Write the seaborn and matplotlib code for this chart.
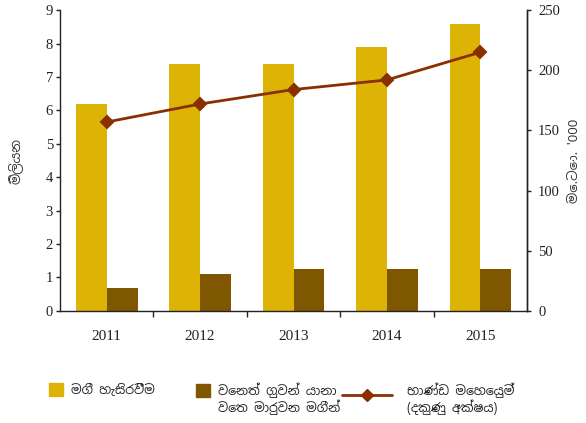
import matplotlib
matplotlib.use("Agg")
import matplotlib.pyplot as plt
import seaborn as sns
import pandas as pd
from matplotlib.patches import Patch
from matplotlib.lines import Line2D
from matplotlib.legend_handler import HandlerPatch, HandlerLine2D

# data
years = ["2011", "2012", "2013", "2014", "2015"]
passengers = [6.2, 7.4, 7.4, 7.9, 8.6]        # million (left axis)
transfer = [0.7, 1.1, 1.25, 1.25, 1.25]       # million (left axis)
cargo = [157, 172, 184, 192, 215]             # MT '000 (right axis)

lbl_pass = "මගී හැසිරවීම"
lbl_transfer = "වෙනත් ගුවන් යානා\nවෙත මාරුවන මගීන්"
lbl_cargo = "භාණ්ඩ මෙහෙයුම්\n(දකුණු අක්ෂය)"
ylabel_left = "මිලියන"
ylabel_right = "මෙ.ටො. '000"

gold = "#DDB306"
brown = "#7F5700"
red = "#8A3000"

sns.set_theme(style="white")
plt.rcParams["font.family"] = ["Liberation Serif", "Noto Sans Sinhala", "Abhaya Libre", "DejaVu Sans"]
sinhala = ["Noto Sans Sinhala", "Abhaya Libre", "DejaVu Sans"]


# legend handles sit next to the first line of a two-line label
class RaisedPatch(HandlerPatch):
    def __init__(self, shift=0.0, **kw):
        super().__init__(**kw)
        self.shift = shift

    def create_artists(self, legend, orig_handle, xdescent, ydescent, width,
                       height, fontsize, trans):
        return super().create_artists(legend, orig_handle, xdescent,
                                      ydescent - self.shift * fontsize,
                                      width, height, fontsize, trans)


class RaisedLine(HandlerLine2D):
    def __init__(self, shift=0.0, **kw):
        super().__init__(**kw)
        self.shift = shift

    def create_artists(self, legend, orig_handle, xdescent, ydescent, width,
                       height, fontsize, trans):
        return super().create_artists(legend, orig_handle, xdescent,
                                      ydescent - self.shift * fontsize,
                                      width, height, fontsize, trans)


df = pd.DataFrame({
    "year": years * 2,
    "value": passengers + transfer,
    "series": [lbl_pass] * 5 + [lbl_transfer] * 5,
})

fig = plt.figure(figsize=(5.86, 4.23), dpi=100)
ax = fig.add_axes([0.1024, 0.265, 0.797, 0.711])

sns.barplot(data=df, x="year", y="value", hue="series", palette=[gold, brown],
            width=0.66, saturation=1, linewidth=0, legend=False, ax=ax)
ax.set_xlim(-0.5, 4.5)
ax.set_ylim(0, 9)
ax.set_yticks(range(0, 10))
ax.set_xlabel("")
ax.set_ylabel(ylabel_left, fontsize=9.5, color="#333333", labelpad=16,
              family=sinhala)

# secondary axis: cargo line
ax2 = ax.twinx()
sns.pointplot(x=years, y=cargo, color=red, markers="D", errorbar=None,
              markersize=6, linewidth=2, ax=ax2)
ax2.set_xlim(-0.5, 4.5)
ax2.set_ylim(0, 250)
ax2.set_yticks(range(0, 251, 50))
ax2.set_ylabel(ylabel_right, fontsize=9.5, color="#333333", labelpad=6,
               family=sinhala)

for a in (ax, ax2):
    a.spines["top"].set_visible(False)
    for s in a.spines.values():
        s.set_color("#222222")
        s.set_linewidth(1)
ax2.spines["left"].set_visible(False)
ax2.spines["bottom"].set_visible(False)

ax.tick_params(axis="y", left=True, direction="out", length=3, width=1,
               pad=2, labelsize=10.5, colors="#222222")
ax2.tick_params(axis="y", right=True, direction="out", length=3, width=1,
                pad=5, labelsize=10.5, colors="#222222")
ax.set_xticks([0.5, 1.5, 2.5, 3.5], minor=True)
ax.tick_params(axis="x", which="major", length=0, pad=14, labelsize=11,
               colors="#222222")
ax.tick_params(axis="x", which="minor", bottom=True, direction="out",
               length=4, width=1, color="#222222")

# legend, three blocks under the plot
leg_kw = dict(frameon=False, loc="upper left", borderaxespad=0,
              borderpad=0, labelcolor="#222222",
              prop={"family": sinhala, "size": 9})
legs = [
    fig.legend(handles=[Patch(color=gold, label=lbl_pass)],
               handler_map={Patch: RaisedPatch(0)},
               bbox_to_anchor=(49 / 586, 1 - 383 / 423), handlelength=1.1,
               handleheight=1.2, handletextpad=0.65, **leg_kw),
    fig.legend(handles=[Patch(color=brown, label=lbl_transfer)],
               handler_map={Patch: RaisedPatch(0.75)},
               bbox_to_anchor=(196 / 586, 1 - 383 / 423), handlelength=1.1,
               handleheight=1.2, handletextpad=0.65, **leg_kw),
    fig.legend(handles=[Line2D([], [], color=red, lw=2, marker="D",
                               markersize=6, label=lbl_cargo)],
               handler_map={Line2D: RaisedLine(0.75)},
               bbox_to_anchor=(342 / 586, 1 - 383 / 423), handlelength=4.0,
               handletextpad=1.2, **leg_kw),
]
for leg in legs:
    for t in leg.get_texts():
        t.set_linespacing(1.1)

fig.savefig("out.png", dpi=100)
